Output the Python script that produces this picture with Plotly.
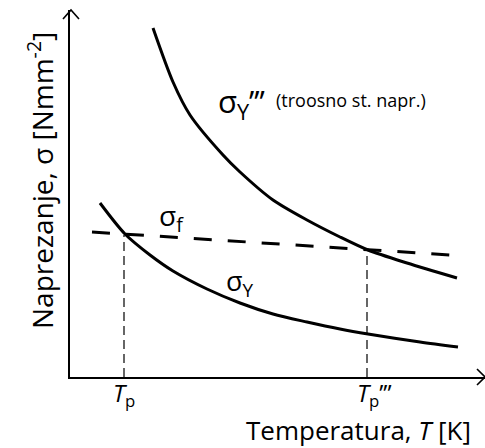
import plotly.graph_objects as go

# Data (arbitrary units)
T_sigma_Y3 = [83, 103, 120, 153, 170, 203, 237, 270, 298, 337, 387]
sigma_Y3 = [349, 295, 262, 222, 205, 177, 157, 140, 127, 114, 99]

T_sigma_Y = [30, 55, 80, 103, 137, 170, 203, 237, 270, 298, 350, 388]
sigma_Y = [174, 143, 122, 106, 88, 74, 63, 55, 48, 43, 35, 30]

T_sigma_f = [22, 380]
sigma_f = [145, 122]

T_p = 54
sigma_at_Tp = 142
T_p3 = 297
sigma_at_Tp3 = 127

X_MAX = 415
Y_MAX = 367
L, T = 70, 10  # plot area offset in px

FONT = "Open Sans"

fig = go.Figure()

fig.add_trace(go.Scatter(x=T_sigma_Y3, y=sigma_Y3, mode="lines",
                         line=dict(color="black", width=3, shape="spline", smoothing=0.8)))
fig.add_trace(go.Scatter(x=T_sigma_Y, y=sigma_Y, mode="lines",
                         line=dict(color="black", width=3, shape="spline", smoothing=0.8)))
fig.add_trace(go.Scatter(x=T_sigma_f, y=sigma_f, mode="lines",
                         line=dict(color="black", width=3, dash="18px,16px")))
fig.add_trace(go.Scatter(x=[T_p, T_p], y=[0, sigma_at_Tp], mode="lines",
                         line=dict(color="black", width=1.2, dash="9px,5px")))
fig.add_trace(go.Scatter(x=[T_p3, T_p3], y=[0, sigma_at_Tp3], mode="lines",
                         line=dict(color="black", width=1.2, dash="9px,5px")))


def px2paper(px, py):
    return (px - L) / X_MAX, (T + Y_MAX - py) / Y_MAX


ann = []
def txt(px, py, s, size, xanchor="left", yanchor="middle", **kw):
    xp, yp = px2paper(px, py)
    ann.append(dict(x=xp, y=yp, text=s, showarrow=False, xref="paper", yref="paper",
                    xanchor=xanchor, yanchor=yanchor, borderpad=0,
                    font=dict(family=FONT, size=size, color="black"), **kw))

txt(217, 103, "σ<sub>Y</sub>’’’", 31)
txt(275, 100, "(troosno st. napr.)", 18)
txt(158, 217, "σ<sub>f</sub>", 28)
txt(225, 282, "σ<sub>Y</sub>", 27)
txt(112, 394, "<i>T</i><sub>p</sub>", 24)
txt(356, 394, "<i>T</i><sub>p</sub>’’’", 24)
txt(472, 430, "Temperatura, <i>T</i> [K]", 26, xanchor="right")
txt(40, 181, "Naprezanje, σ [Nmm<sup>-2</sup>]", 28, xanchor="center", textangle=-90)

fig.update_layout(annotations=ann)

# axis arrowheads (open chevrons) in paper coordinates
shapes = []
for pts in ([(63, 19), (71, 10), (79, 19)], [(477, 369), (485, 377), (477, 385)]):
    path = ""
    for i, (a, b) in enumerate(pts):
        xp, yp = px2paper(a, b)
        path += ("M" if i == 0 else "L") + f"{xp},{yp} "
    shapes.append(dict(type="path", path=path, xref="paper", yref="paper",
                       line=dict(color="black", width=1.6)))
fig.update_layout(shapes=shapes)

fig.update_layout(
    width=485, height=448,
    margin=dict(l=L, r=0, t=T, b=448 - T - Y_MAX),
    paper_bgcolor="white", plot_bgcolor="white",
    showlegend=False,
    xaxis=dict(range=[0, X_MAX], showgrid=False, zeroline=False, showticklabels=False,
               ticks="", showline=True, linecolor="black", linewidth=1.6, fixedrange=True),
    yaxis=dict(range=[0, Y_MAX], showgrid=False, zeroline=False, showticklabels=False,
               ticks="", showline=True, linecolor="black", linewidth=1.6, fixedrange=True),
)

fig.write_html("out.html", config={"displayModeBar": False},
               post_script="document.body.style.margin='0';")
